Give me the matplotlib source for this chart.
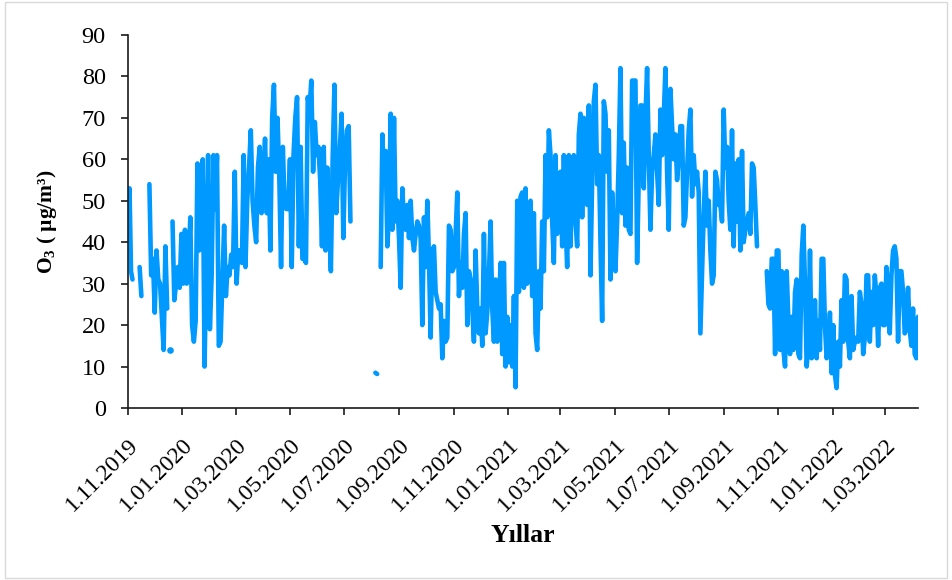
import pandas as pd
import matplotlib
matplotlib.use("Agg")
import matplotlib.pyplot as plt
import matplotlib.dates as mdates
from matplotlib.patches import Rectangle

plt.rcParams['font.family'] = ['Liberation Serif', 'DejaVu Serif']
plt.rcParams['mathtext.default'] = 'regular'

LINE_COLOR = '#0099ff'

# O3 olcum serileri (ug/m3); her parca kesintisiz bir olcum donemi
o3_2019_a = [50, 53, 33, 31]
o3_2019_b = [34, 27]
o3_2019_c = [54, 32, 36, 23, 38, 31, 30, 22, 14, 39, 24]
o3_2019_d = [14]
o3_2020_a = [45, 26, 30, 34, 29, 42, 30, 43, 30, 35, 46, 20, 16, 21, 59, 38, 55, 60, 10, 35,
             61, 19, 32, 61, 48, 61, 15, 16, 30, 44, 27, 34, 32, 37, 34, 57, 30, 38, 38, 35,
             61, 34, 50, 58, 67, 50, 44, 40, 58, 63, 47, 55, 65, 47, 60, 38, 70, 78, 57, 70,
             56, 34, 63, 49, 48, 48, 60, 34, 61, 70, 75, 39, 63, 36, 36, 35, 75, 72, 79, 57,
             69, 61, 63, 55, 39, 63, 38, 58, 45, 33, 60, 78, 47, 55, 62, 71, 41, 60, 67, 68,
             45]
o3_2020_b = [8.5, 8.2]
o3_2020_2021 = [34, 66, 55, 62, 39, 47, 71, 43, 70, 45, 50, 41, 29, 53, 45, 43, 49, 41, 50, 41,
                38, 42, 45, 44, 41, 20, 46, 34, 50, 36, 17, 38, 39, 28, 26, 24, 25, 12, 21, 16,
                17, 44, 43, 33, 34, 42, 52, 27, 35, 29, 42, 47, 20, 33, 31, 24, 16, 38, 24, 18,
                24, 15, 42, 18, 23, 32, 45, 24, 16, 31, 16, 24, 35, 13, 35, 10, 22, 11, 20, 10,
                27, 5, 50, 28, 51, 52, 29, 53, 30, 46, 50, 27, 47, 18, 14, 33, 24, 45, 33, 61,
                46, 67, 61, 45, 35, 61, 42, 55, 57, 39, 61, 45, 34, 61, 39, 55, 61, 45, 39, 66,
                71, 46, 70, 53, 49, 73, 32, 55, 74, 78, 54, 61, 40, 21, 74, 71, 57, 67, 31, 52,
                42, 33, 45, 61, 82, 47, 64, 44, 58, 43, 42, 79, 79, 79, 35, 56, 73, 73, 53, 70,
                82, 61, 43, 57, 61, 66, 57, 49, 72, 61, 70, 82, 57, 43, 77, 68, 60, 66, 55, 60,
                68, 68, 44, 46, 57, 67, 72, 51, 61, 54, 57, 52, 18, 33, 47, 57, 44, 50, 38, 30,
                32, 57, 55, 49, 49, 45, 72, 58, 63, 50, 43, 67, 39, 59, 45, 60, 38, 62, 40, 43,
                45, 47, 42, 59, 58, 49, 39]
o3_2021_2022 = [33, 25, 24, 36, 36, 13, 38, 38, 14, 33, 14, 10, 33, 21, 13, 22, 14, 28, 31, 13,
                12, 37, 44, 30, 10, 15, 38, 12, 13, 26, 12, 21, 14, 36, 36, 20, 12, 14, 23, 8.4,
                20, 8, 4.8, 16, 10, 26, 16, 32, 31, 16, 12, 27, 14, 16, 17, 16, 28, 25, 13, 17,
                32, 32, 16, 28, 20, 32, 27, 15, 29, 30, 20, 20, 34, 28, 18, 32, 38, 39, 36, 16,
                33, 33, 28, 18, 19, 29, 19, 15, 24, 13, 12, 22]

segments = [
    ('2019-11-01', '2019-11-06', o3_2019_a),
    ('2019-11-14', '2019-11-16', o3_2019_b),
    ('2019-11-25', '2019-12-15', o3_2019_c),
    ('2019-12-18', '2019-12-18', o3_2019_d),
    ('2019-12-21', '2020-07-08', o3_2020_a),
    ('2020-08-05', '2020-08-07', o3_2020_b),
    ('2020-08-11', '2021-10-08', o3_2020_2021),
    ('2021-10-19', '2022-04-07', o3_2021_2022),
]

fig = plt.figure(figsize=(9.52, 5.8), dpi=100)
ax = fig.add_axes([0.1345, 0.2966, 0.8298, 0.6431])

for start, end, vals in segments:
    dates = pd.date_range(start, end, periods=len(vals))
    if len(vals) == 1:
        ax.plot(dates, vals, 'o', color=LINE_COLOR, ms=4.8, mec='none')
    else:
        ax.plot(dates, vals, color=LINE_COLOR, lw=3.3,
                solid_joinstyle='round', solid_capstyle='round')

ax.set_xlim(pd.Timestamp('2019-11-01'), pd.Timestamp('2022-04-07'))
ax.set_ylim(0, 90)
ax.set_yticks(range(0, 91, 10))

ax.xaxis.set_major_locator(mdates.MonthLocator(bymonth=[1, 3, 5, 7, 9, 11]))
ax.xaxis.set_major_formatter(
    plt.FuncFormatter(lambda v, pos: (lambda d: f"{d.day}.{d.month:02d}.{d.year}")(mdates.num2date(v))))

for side in ('top', 'right'):
    ax.spines[side].set_visible(False)
for side in ('left', 'bottom'):
    ax.spines[side].set_linewidth(1.2)
    ax.spines[side].set_color('#1a1a1a')

ax.tick_params(axis='both', direction='out', length=5, width=1.2, color='#1a1a1a')
ax.tick_params(axis='y', labelsize=17.5, pad=11)
ax.tick_params(axis='x', labelsize=17, pad=14)
for lab in ax.get_xticklabels():
    lab.set_rotation(45)
    lab.set_ha('right')
    lab.set_va('top')
    lab.set_rotation_mode('anchor')

ax.set_ylabel('O$_3$ ( µg/m³)', fontsize=15.5, fontweight='bold', labelpad=16)
ax.set_xlabel('Yıllar', fontsize=18.5, fontweight='bold', labelpad=6)

fig.add_artist(Rectangle((0.005, 0.004), 0.99, 0.992, transform=fig.transFigure,
                         fill=False, ec='#d9d9d9', lw=1.0))

fig.savefig('out.png', dpi=100)
